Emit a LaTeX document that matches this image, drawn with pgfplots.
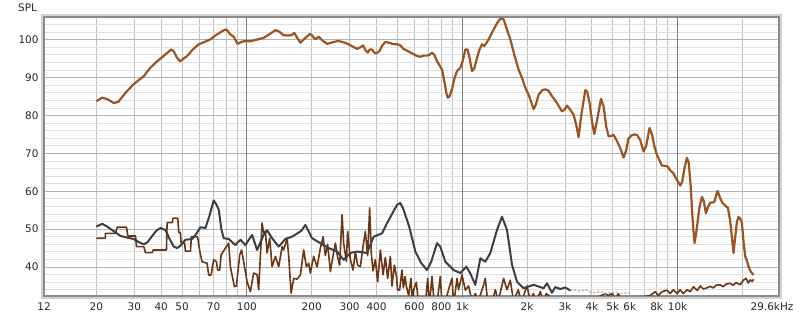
\documentclass[border=0pt]{standalone}
\usepackage{fontspec}
\setmainfont{DejaVu Sans}
\usepackage{pgfplots}
\pgfplotsset{compat=1.18}
\definecolor{mainbrown}{RGB}{156,84,32}
\definecolor{darkbrown}{RGB}{108,54,18}
\definecolor{distgray}{RGB}{60,62,66}
\begin{document}
\begin{tikzpicture}
\path[use as bounding box] (0bp,0bp) rectangle (800bp,321bp);
\draw[black!18, line width=3bp] (42.5bp,23.5bp) rectangle (780.5bp,305.5bp);
\node[font=\fontsize{10.5}{12}\selectfont, text=black!85] at (27.5bp,313bp) {SPL};
\begin{axis}[
  at={(44bp,25bp)}, anchor=south west, scale only axis,
  width=735bp, height=279bp,
  xmode=log, xmin=11.42, xmax=29600, ymin=32.35, ymax=106,
  axis line style={draw=black!45, line width=1.2bp},
  major tick length=0pt, minor tick length=0pt,
  /pgf/number format/assume math mode=true,
  ticklabel style={font=\fontsize{10.5}{12}\selectfont, text=black!85},
  yticklabel style={xshift=-2bp},
  xticklabel style={yshift=-3bp},
  ytick={40,50,60,70,80,90,100},
  minor ytick={34,36,38,42,44,46,48,52,54,56,58,62,64,66,68,72,74,76,78,82,84,86,88,92,94,96,98,102,104,106},
  xtick={11.42,20,30,40,50,70,100,200,300,400,600,800,1000,2000,3000,4000,5000,6000,8000,10000,29600},
  xticklabels={12,20,30,40,50,70,100,200,300,400,600,800,1k,2k,3k,4k,5k,6k,8k,10k,29.6kHz\hspace*{14bp}},
  minor xtick={20,30,40,50,60,70,80,90,200,300,400,500,600,700,800,900,2000,3000,4000,5000,6000,7000,8000,9000,20000},
  xmajorgrids=false, xminorgrids=true, ymajorgrids=true, yminorgrids=true,
  minor x grid style={black!24, line width=0.8bp},
  major y grid style={black!30, line width=0.8bp},
  minor y grid style={black!12, line width=0.8bp},
  extra x ticks={100,1000,10000}, extra x tick labels={},
  extra x tick style={grid=major, major x grid style={black!50, line width=0.9bp}},
  clip=true,
]
% noisy (dark brown) curve
\addplot[darkbrown, line width=1.6bp, line join=round, no markers] coordinates {
(20,47.6)(22.0,47.6)(22.0,48.9)(24.5,48.9)(25.0,50.5)(27.6,50.5)(28.0,48.2)(30.4,48.2)(30.7,45.4)(33.2,45.4)(33.8,43.8)(36.3,43.8)(36.7,44.5)(42.3,44.5)(42.6,51.7)(45.0,51.7)(45.4,52.9)(47.7,52.9)(48.3,49.1)(49.1,49.1)(49.5,46.3)(51.4,46.3)(51.8,44.2)(54.7,44.2)(55.2,48.0)(59,48.0)(60.5,44)
(61.9,41.4)(65.3,41.0)(66.5,37.9)(68.2,37.9)(70.1,41.9)(72.2,41.4)(73.2,39.2)(74.8,39.2)(75.9,43.2)(79.5,45)(82.3,46.3)(83.8,40.1)(87.5,34.8)(89.4,35)(92.6,43.2)(94.5,44.5)
(100.2,36.1)(103.8,33.5)(107.5,38.4)(111.5,38.0)(113.4,34)(117.6,51.6)(119.7,49)(121.9,49.4)(124.1,43.7)(127.6,47.6)(130.9,40.1)(135.6,42.8)(140.5,40.1)(145.8,45.4)(148.2,44.5)(153.7,47.6)(156.4,42.8)(160.4,33.1)(165.0,37)(171.1,36.8)(177.2,37.9)(183.5,44.5)(188.9,40.1)(193.6,41)(197.1,38.4)
(204.2,42.8)(211.8,40)(219.4,45)(225.9,48)(231.4,43)(237.2,46)(244.2,38.8)(251.3,43)(257.6,46.3)(264.0,42.5)(269.7,40.5)(276.7,53.8)(281.4,46.3)(289.6,41.5)(293.8,49.4)(302.4,42)(311.2,39.2)(319.0,44)(326.9,40.5)(336.5,40.1)(346.4,45.5)(354.9,49.4)(363.8,43)(371.6,55.6)(378.4,43.5)(385.4,39)(395.0,42)
(404.8,36.1)(416.7,44.5)(428.9,38)(439.5,42.5)(450.5,37)(463.7,42.8)(472,35)(484,40.5)(495,37.5)(501,34)(512,33.9)(525,39.2)(533,34.5)(543,37.5)(550,35)(564,32.5)(578,37)(587,31)(595,34)(612,36)(628,30)(653,31)(674,30)(691,37)(704,30)(724,37.5)(742,30)(766,31)(791,37.5)(806,30)(835,31)(874,35)(897,37)(912,30)(946,37)(962,34)(998,37.9)
(1034,33.9)(1071,35)(1110,31)(1151,33)(1188,31)(1253,35)(1280,37)(1312,31)(1365,30)(1425,34)(1471,31)(1557,37)(1614,34)(1672,36.5)(1732,31)(1821,34)(1895,30)(1942,33)(2000,35)(2071,31)(2138,33)(2208,31)(2305,33.5)(2380,31)(2458,33)(2854,30)(3933,31)(4617,33)(4768,32.5)(4975,33)(5137,31.5)(5304,33)(5537,31)(6031,31)(6711,32)(7470,32.5)(7880,33.5)(8137,32.5)(8492,33.5)(8929,33.9)(9250,33)(9550,34)(9968,33)
(10292,34)(10628,33)(11057,34)(11455,33.5)(11866,34.8)(12345,33.8)(12747,35)(13161,34.2)(13693,34.5)(14184,34.9)(14645,34.5)(15122,35.2)(15785,35.3)(16300,34.8)(16832,35.5)(17565,35.7)(18140,35.2)(18730,35.9)(19550,35.3)(20184,36.5)(20840,37)(21290,35.8)(21750,36.6)(22230,36.2)(22540,36.8)
};
% light gray dotted tail of the distortion curve
\addplot[black!30, line width=1.4bp, dash pattern=on 2bp off 2bp, no markers] coordinates {
(3176,33.8)(3351,34)(3535,33.6)(3729,34)(3933,33.4)(4149,33.2)(4377,33.6)(4617,33)(5000,33.3)(5500,33)(6000,33.2)
};
% dark gray curve
\addplot[distgray, line width=2bp, line join=round, no markers] coordinates {
(20,50.7)(21.3,51.4)(22.4,50.7)(24.0,49.5)(25.9,48.2)(27.6,47.8)(29.8,47.4)(31.4,46.6)(33.2,46.0)(34.5,46.5)(36.3,48.2)(38.0,49.6)(39.7,50.3)(41.8,49.8)(43.7,47.5)(45.7,45.4)(47.4,45.0)(49.1,45.6)(51.8,47.2)(55.7,47.4)(58.3,48.8)(60.8,50.5)(64.2,50.3)(67.0,53.5)(70.1,57.6)(72.2,56.5)(74.0,55.1)(76.1,50)(78.0,47.6)(82.3,47.4)(88.4,45.8)(93.3,47.2)(98.4,45.8)
(105.7,48.5)(111.5,44.5)(119.7,48.5)(124.1,49.7)(130.9,47.6)(140.5,45.4)(150.9,47.4)(162.1,48.0)(174.0,49.1)(179.1,49.6)(186.9,51.1)(200.8,47.6)(219.4,46.3)(239.8,45.0)(262.3,44.1)(281.4,41.9)(302.4,43.7)(324.8,44.1)(361.4,43.7)(387.9,48.0)(424.3,48.9)(447.7,51.6)(472.2,54.0)(498.2,56.4)(516,56.9)(534.5,55.1)(568.2,50.5)(605.7,44.1)(645.9,41)(686.5,39.2)(718.9,41.5)(763.8,46.3)(791.2,45.4)(834.9,41.4)(912.4,39.2)(979.9,38.4)
(1044.7,40.1)(1090.4,38.3)(1150.4,35.3)(1213.6,42.3)(1280.3,41.4)(1350.6,43.7)(1450.6,49.8)(1530.3,53.3)(1614.4,49.8)(1703.1,40.6)(1796.7,36.1)(1927.9,34.4)(2145.2,35.3)(2387.6,34.4)(2475.2,35.7)(2611.5,33.2)(2705.3,34.7)(2853.9,34.2)(3010.9,34.6)(3176.3,33.8)
};
% main SPL curve
\addplot[mainbrown, line width=2.2bp, line join=round, no markers] coordinates {
(20,83.8)(21.3,84.7)(22.5,84.3)(24.1,83.3)(25.3,83.6)(27.3,86.0)(29.7,88.2)(33.2,90.4)(35.6,92.6)(38.3,94.3)(41.8,96.1)(44.5,97.4)(45.7,97.0)(47.1,95.5)(48.8,94.3)(52.8,95.7)(55.8,97.3)(59.7,98.8)(63.5,99.4)(67.7,100.1)(72.2,101.3)(78.0,102.5)(80.3,102.7)(83.8,101.4)(86.8,100.8)(90.6,98.9)(93.3,99.3)(96.6,99.6)
(103.8,99.6)(110.7,100.0)(119.7,100.5)(128.5,101.6)(135.6,102.5)(140.8,102.2)(148.2,101.2)(156.4,101.1)(162,101.3)(166,101.8)(170,100.8)(177.2,99.2)(186.9,100.5)(197.1,101.6)(208,100.1)(215.5,100.8)(224.2,99.8)(235.7,98.9)(249.4,99.3)(266,99.7)(277.6,99.4)(291.9,99.0)(305.6,98.4)(324.8,97.6)(336.5,98.0)(346.4,98.5)(354.9,97.3)(363.8,96.6)(372.4,97.4)(381.3,97.4)(390.8,96.6)(399.1,96.4)(412.1,97.0)(425.6,98.5)(439.5,99.4)(458.7,99.2)(480.4,98.8)(499.8,98.8)(516,98.5)(532.9,97.6)(550.2,97.2)(580.4,96.5)(617,95.7)(639,95.5)(662,95.8)(686.5,95.8)(703.6,96.0)(724.2,96.6)(742.2,96.0)(763.8,94.3)(783,93.3)(805.9,92.1)(826,89)(843.9,86)(855.7,84.7)(871.3,84.9)(896.7,86.9)(919.1,89.7)(946,91.7)(979.9,92.6)
(1006.6,94.5)(1033.8,97.4)(1059.5,97.4)(1079,95.5)(1110.6,91.7)(1138.2,92.5)(1171.5,95.2)(1200.8,97.3)(1235.9,98.8)(1266.7,98.3)(1326.4,100.1)(1399.2,102.7)(1455.6,104.5)(1503,105.6)(1556.9,105.4)(1602.4,103.2)(1672.5,100.1)(1745.6,96.0)(1827.5,92.1)(1901.3,89.7)(1963.3,87.3)(2033.8,85.5)(2093.6,83.5)(2145.2,81.7)(2196.3,82.8)(2263,85.5)(2354.5,86.7)(2431.1,86.9)(2510.3,86.6)(2611.5,85.1)(2754.3,83.3)(2905.4,81.1)(2978.9,81.5)(3066.5,82.6)(3176.3,81.5)(3290.1,80.2)(3386.2,77.5)(3471.2,74.3)(3572.6,80)(3729,86.7)(3809.8,86.2)(3904.2,83.3)(4017.8,78)(4105.2,75.1)(4238.7,79)(4410.1,84.4)(4534.7,82.4)(4667.5,77)(4783.9,74.5)(4923.5,74.6)(5046.3,74.9)(5193.9,73.6)(5420.1,71.4)(5614.5,68.9)(5778.4,70.8)(5903.5,73.8)(6096.5,74.7)(6295.1,75.0)(6500.1,74.8)(6711.4,73.5)(6952.2,70.5)(7155.1,72)(7413.6,76.7)(7630.6,74.8)(7795.7,72)(8024,69.6)(8268,68.0)(8465,66.8)(8723,66.7)(8960,66.6)(9251,65.5)(9550,64.8)(9862,63.3)
(10130,62.2)(10292,61.5)(10515,62.5)(10800,66.5)(11058,68.8)(11272,67.5)(11504,61.5)(11766,52)(11995,46.3)(12280,50)(12613,55.5)(12980,58.5)(13232,57.5)(13545,54.2)(13883,56)(14185,57)(14802,57.1)(15336,60.1)(15706,58.5)(16130,57)(16657,56.2)(17146,55.6)(17573,52)(17950,47)(18204,43.7)(18538,48)(18880,52)(19205,53.2)(19554,52.8)(19913,51.6)(20302,46)(20628,42.8)(20963,41.8)(21373,40.1)(21880,38.8)(22545,37.9)
};
\end{axis}
\end{tikzpicture}
\end{document}
